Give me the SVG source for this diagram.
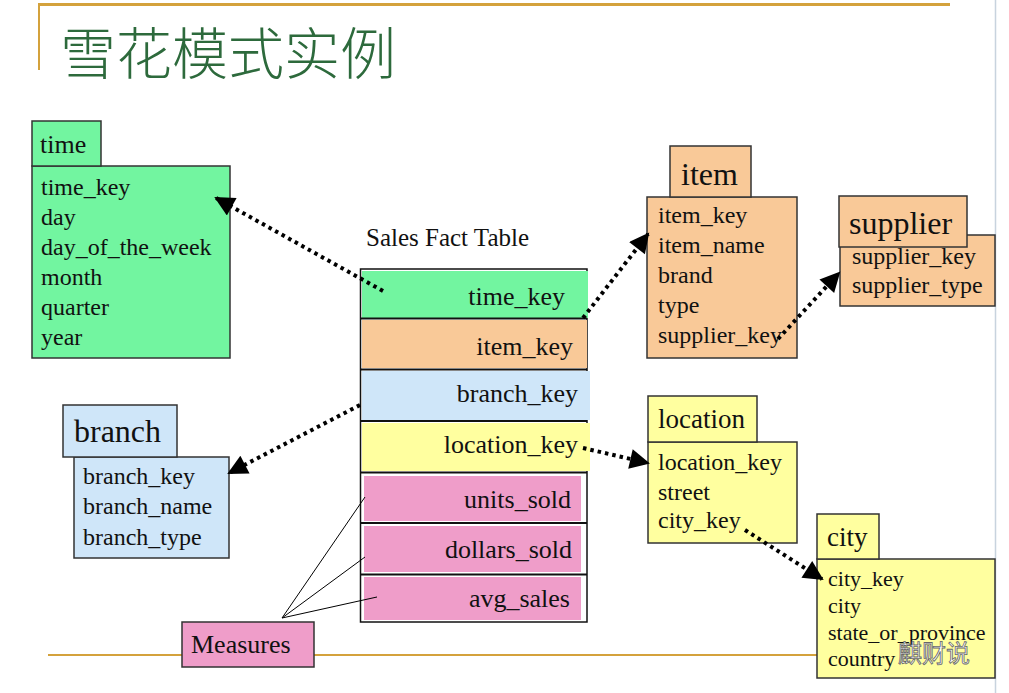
<svg xmlns="http://www.w3.org/2000/svg" width="1009" height="693" viewBox="0 0 1009 693">
<style>
text{font-family:"Liberation Serif","Times New Roman",serif;fill:#111}
.f{font-size:24px}
.ft{font-size:26px;text-anchor:end}
.box{stroke:#333;stroke-width:1.5}
.g{fill:#72f5a0}.o{fill:#f9c998}.b{fill:#cfe6f9}.y{fill:#ffff9f}.p{fill:#ef9dc9}
.dot{fill:none;stroke:#000;stroke-width:4;stroke-dasharray:3.5 4}
.thin{fill:none;stroke:#000;stroke-width:1}
.sep{stroke:#111;stroke-width:2}
</style>
<defs>
<marker id="ah" viewBox="0 0 10 10" refX="9" refY="5" markerWidth="24" markerHeight="20" markerUnits="userSpaceOnUse" orient="auto">
<path d="M0,0 L10,5 L0,10 Z" fill="#000"/>
</marker>
</defs>
<rect width="1009" height="693" fill="#fff"/>
<g id="frame">
<line x1="38" y1="4.5" x2="950" y2="4.5" stroke="#d4a23c" stroke-width="3"/>
<line x1="39" y1="4" x2="39" y2="70" stroke="#d4a23c" stroke-width="2"/>
<line x1="48" y1="655" x2="820" y2="655" stroke="#d4a23c" stroke-width="2"/>
<line x1="995.5" y1="0" x2="995.5" y2="693" stroke="#c8d3de" stroke-width="1.5"/>
<text x="60" y="74" style="font-family:'Noto Sans CJK SC','Noto Sans CJK JP',sans-serif;font-size:56px;font-weight:300;fill:#2d6a3c">雪花模式实例</text>
</g>
<g id="time">
<rect class="box g" x="32" y="166" width="198" height="192"/>
<rect class="box g" x="32" y="121" width="69" height="45"/>
<text x="40" y="153" style="font-size:26px">time</text>
<text class="f" x="41" y="195">time_key</text>
<text class="f" x="41" y="225">day</text>
<text class="f" x="41" y="255">day_of_the_week</text>
<text class="f" x="41" y="285">month</text>
<text class="f" x="41" y="315">quarter</text>
<text class="f" x="41" y="345">year</text>
</g>
<g id="fact">
<text x="366" y="246" style="font-size:25px">Sales Fact Table</text>
<rect x="360.5" y="269" width="226.5" height="353" fill="#fff" stroke="#111" stroke-width="1.5"/>
<rect class="g" x="362" y="271" width="226" height="47"/>
<rect class="o" x="362" y="320" width="225" height="48"/>
<rect class="b" x="362" y="371" width="228" height="49"/>
<rect class="y" x="362" y="423" width="228" height="48"/>
<rect class="p" x="364" y="476" width="217" height="45"/>
<rect class="p" x="364" y="526" width="217" height="46"/>
<rect class="p" x="364" y="577" width="217" height="43"/>
<line class="sep" x1="361" y1="318.5" x2="587" y2="318.5"/>
<line class="sep" x1="361" y1="369.5" x2="587" y2="369.5"/>
<line class="sep" x1="361" y1="421" x2="587" y2="421"/>
<line class="sep" x1="361" y1="472.5" x2="587" y2="472.5"/>
<line class="sep" x1="361" y1="523" x2="587" y2="523"/>
<line class="sep" x1="361" y1="574.5" x2="587" y2="574.5"/>
<text class="ft" x="565" y="305">time_key</text>
<text class="ft" x="573" y="355">item_key</text>
<text class="ft" x="578" y="402">branch_key</text>
<text class="ft" x="578" y="453">location_key</text>
<text class="ft" x="571" y="508">units_sold</text>
<text class="ft" x="572" y="558">dollars_sold</text>
<text class="ft" x="570" y="607">avg_sales</text>
</g>
<g id="item">
<rect class="box o" x="647" y="197" width="150" height="161"/>
<rect class="box o" x="670" y="146" width="81" height="51"/>
<text x="681" y="185" style="font-size:32px">item</text>
<text class="f" x="658" y="223">item_key</text>
<text class="f" x="658" y="253">item_name</text>
<text class="f" x="658" y="283">brand</text>
<text class="f" x="658" y="313">type</text>
<text class="f" x="658" y="343">supplier_key</text>
</g>
<g id="supplier">
<rect class="box o" x="840" y="235" width="155" height="71"/>
<rect class="box o" x="839" y="196" width="128" height="51"/>
<text x="849" y="234" style="font-size:32px">supplier</text>
<text class="f" x="852" y="264">supplier_key</text>
<text class="f" x="852" y="293">supplier_type</text>
</g>
<g id="branch">
<rect class="box b" x="74" y="457" width="155" height="101"/>
<rect class="box b" x="63" y="405" width="114" height="52"/>
<text x="74" y="442" style="font-size:32px">branch</text>
<text class="f" x="83" y="484">branch_key</text>
<text class="f" x="83" y="514">branch_name</text>
<text class="f" x="83" y="545">branch_type</text>
</g>
<g id="location">
<rect class="box y" x="648" y="442" width="149" height="101"/>
<rect class="box y" x="648" y="396" width="109" height="46"/>
<text x="658" y="428" style="font-size:27px">location</text>
<text class="f" x="658" y="470">location_key</text>
<text class="f" x="658" y="500">street</text>
<text class="f" x="658" y="528">city_key</text>
</g>
<g id="city">
<rect class="box y" x="817" y="559" width="178" height="119"/>
<rect class="box y" x="817" y="514" width="62" height="45"/>
<text x="827" y="546" style="font-size:27px">city</text>
<text class="f" x="828" y="586" style="font-size:22px">city_key</text>
<text class="f" x="828" y="613" style="font-size:22px">city</text>
<text class="f" x="828" y="640" style="font-size:22px">state_or_province</text>
<text class="f" x="828" y="666" style="font-size:22px">country</text>
</g>
<g id="measures">
<rect class="box p" x="182" y="622" width="132" height="45"/>
<text x="191" y="653" style="font-size:26px">Measures</text>
</g>
<g id="connectors">
<line class="dot" x1="383" y1="291" x2="216" y2="198" marker-end="url(#ah)"/>
<line class="dot" x1="583" y1="318" x2="648" y2="234" marker-end="url(#ah)"/>
<line class="dot" x1="778" y1="339" x2="839" y2="273" marker-end="url(#ah)"/>
<line class="dot" x1="360" y1="405" x2="229" y2="473" marker-end="url(#ah)"/>
<line class="dot" x1="583" y1="448" x2="648" y2="463" marker-end="url(#ah)"/>
<line class="dot" x1="745" y1="530" x2="822" y2="579" marker-end="url(#ah)"/>
<line class="thin" x1="282" y1="618" x2="365" y2="497"/>
<line class="thin" x1="282" y1="618" x2="365" y2="557"/>
<line class="thin" x1="282" y1="618" x2="377" y2="597"/>
</g>
<g id="watermark">
<text x="898" y="662" style="font-family:'Noto Sans CJK SC',sans-serif;font-size:24px;fill:#fff;stroke:#666;stroke-width:0.8">麒财说</text>
</g>
</svg>
